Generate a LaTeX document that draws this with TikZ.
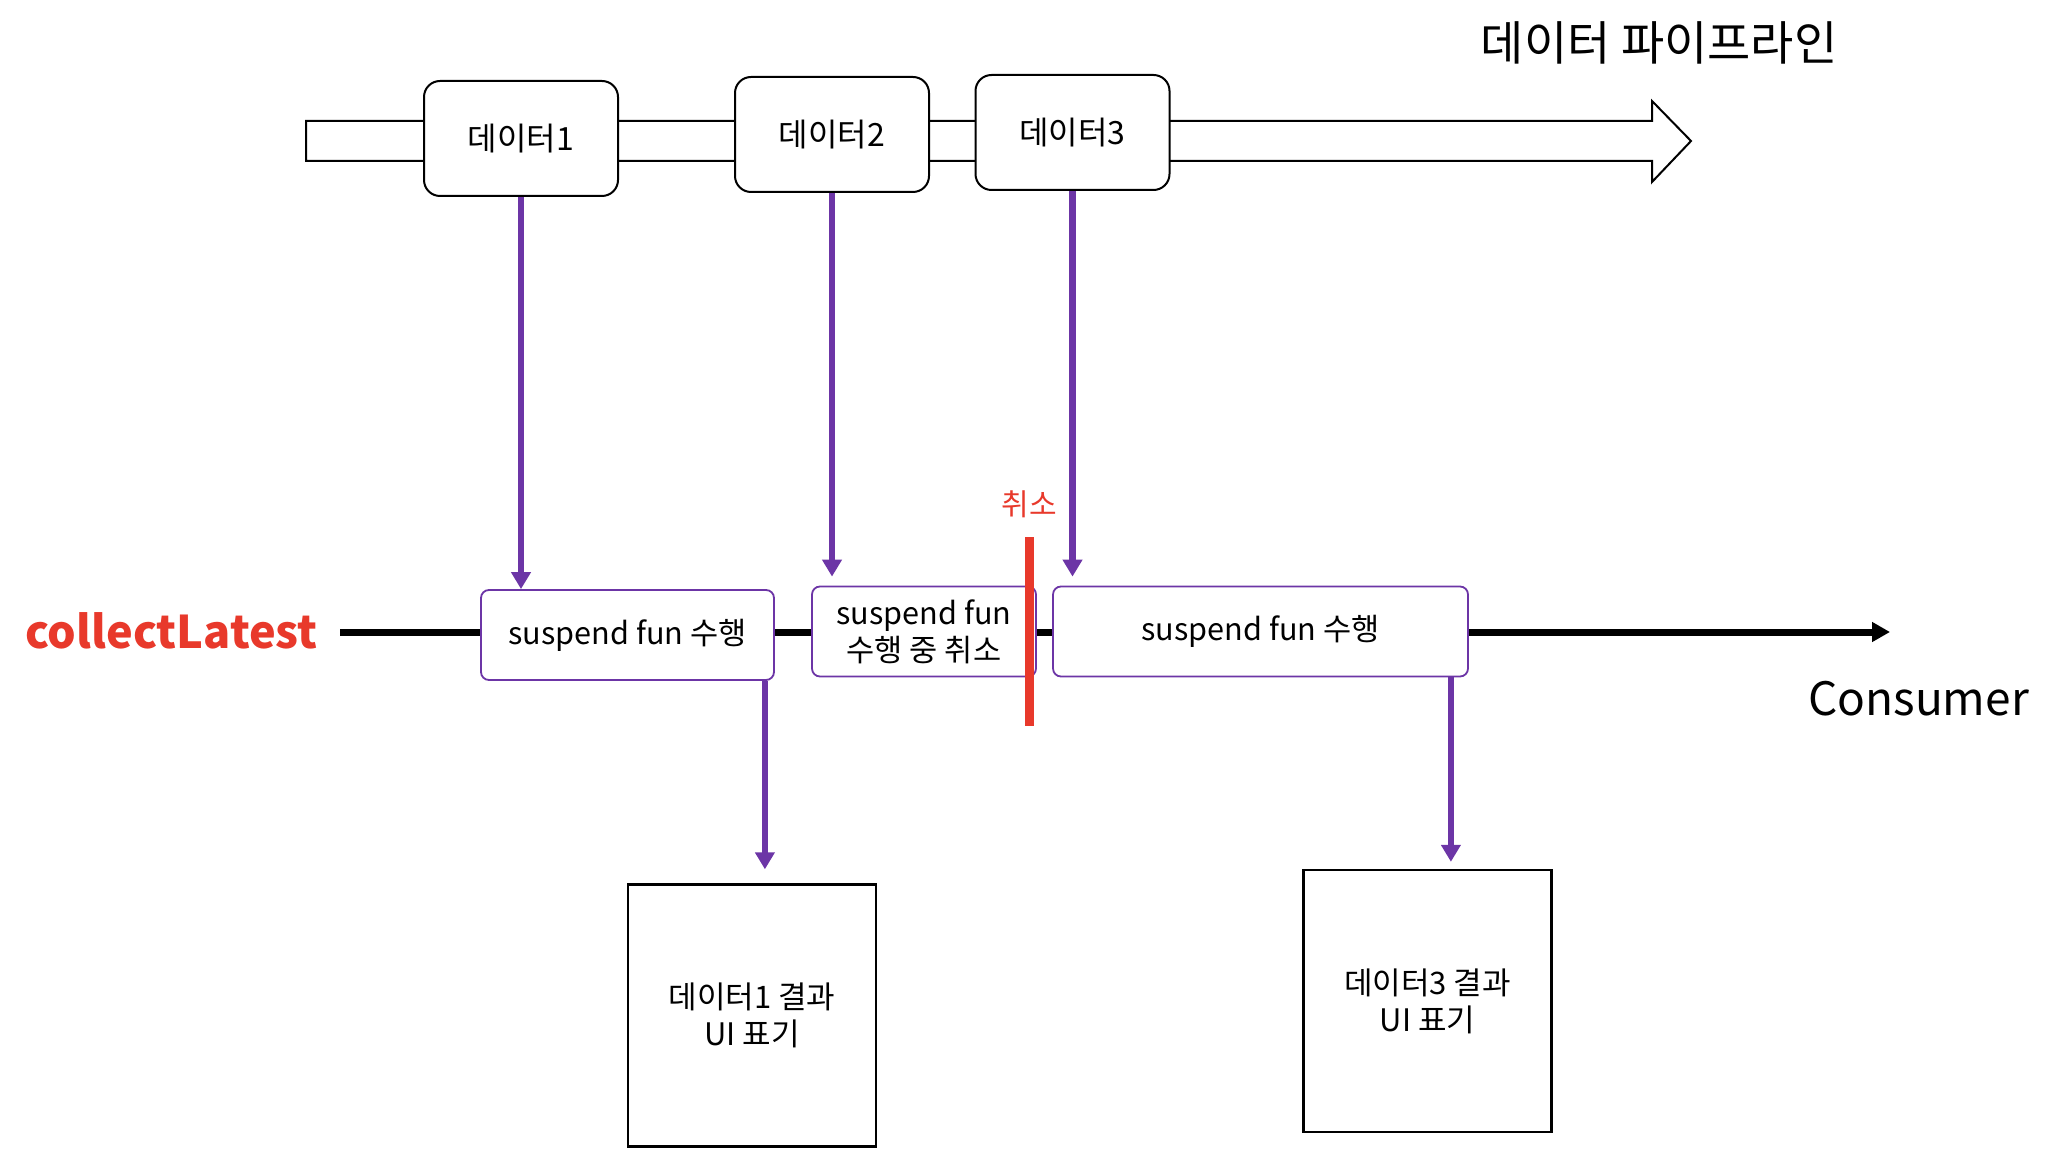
\documentclass[tikz,border=0pt]{standalone}
\usepackage{fontspec}
\setmainfont{Noto Sans CJK KR}
\usetikzlibrary{arrows.meta,calc}
\definecolor{pur}{HTML}{6C35A6}
\definecolor{cred}{HTML}{E8392B}
\begin{document}
\begin{tikzpicture}[x=0.5pt,y=-0.5pt,
  databox/.style={draw=black,line width=1pt,fill=white,rounded corners=8pt,minimum width=97pt,minimum height=57.5pt,inner sep=0pt,font=\fontsize{16}{19}\selectfont},
  sfbox/.style={draw=pur,line width=0.9pt,fill=white,rounded corners=4pt,minimum height=45pt,inner sep=0pt,align=center,font=\fontsize{15.3}{18.5}\selectfont},
  resbox/.style={draw=black,line width=1.2pt,fill=white,minimum width=124pt,minimum height=131pt,inner sep=0pt,align=center,font=\fontsize{15.5}{18.5}\selectfont},
  parr/.style={draw=pur,line width=3.2pt,-{Triangle[length=8.5pt,width=9.5pt]}}]
\useasboundingbox (0,0) rectangle (2048,1154);
% pipeline arrow
\draw[line width=1pt,fill=white] (306,121) -- (1652,121) -- (1652,101) -- (1691,141) -- (1652,182) -- (1652,161) -- (306,161) -- cycle;
\node[font=\fontsize{23.5}{28}\selectfont] (title) at (1659,43) {데이터 파이프라인};
% data nodes
\node[databox] (d1) at (521,138.5) {데이터1};
\node[databox] (d2) at (832,134.5) {데이터2};
\node[databox] (d3) at (1072.5,132.5) {데이터3};
% consumer line
\coordinate (cstart) at (340,632);
\coordinate (cend) at (1890,632);
\draw[line width=3.5pt,-{Triangle[length=9pt,width=9.5pt]}] (cstart) -- (cend);
\node[text=cred,font=\fontsize{22.5}{27}\selectfont\bfseries] (cl) at (171.5,631) {collectLatest};
\node[font=\fontsize{23}{27}\selectfont] (cons) at (1918.5,699) {Consumer};
% suspend boxes
\node[sfbox,minimum width=146.5pt] (s1) at (627.5,635) {suspend fun 수행};
\node[sfbox,minimum width=112pt] (s2) at (924,631.5) {suspend fun\\수행 중 취소};
\node[sfbox,minimum width=207.5pt] (s3) at (1260.5,631.5) {suspend fun 수행};
% cancel
\coordinate (ct) at (1029,537);
\coordinate (cb) at (1029,726);
\draw[cred,line width=4.5pt] (ct) -- (cb);
\node[text=cred,font=\fontsize{15}{18}\selectfont] (cx) at (1029,504) {취소};
% result boxes
\node[resbox] (r1) at (752,1015.5) {데이터1 결과\\UI 표기};
\node[resbox] (r3) at (1427.5,1001) {데이터3 결과\\UI 표기};
% purple arrows
\coordinate (s1o) at ($(s1.south east)+(-10,0)$);
\coordinate (s3o) at ($(s3.south east)+(-18,0)$);
\coordinate (r1i) at ($(s1o |- r1.north)+(0,-14)$);
\coordinate (r3i) at ($(s3o |- r3.north)+(0,-7)$);
\coordinate (s2i) at ($(d2.south |- s2.north)+(0,-9)$);
\coordinate (s3i) at ($(d3.south |- s3.north)+(0,-9)$);
\draw[parr] (d1.south) -- (d1.south |- s1.north);
\draw[parr] (d2.south) -- (s2i);
\draw[parr] (d3.south) -- (s3i);
\draw[parr] (s1o) -- (r1i);
\draw[parr] (s3o) -- (r3i);
\end{tikzpicture}
\end{document}
